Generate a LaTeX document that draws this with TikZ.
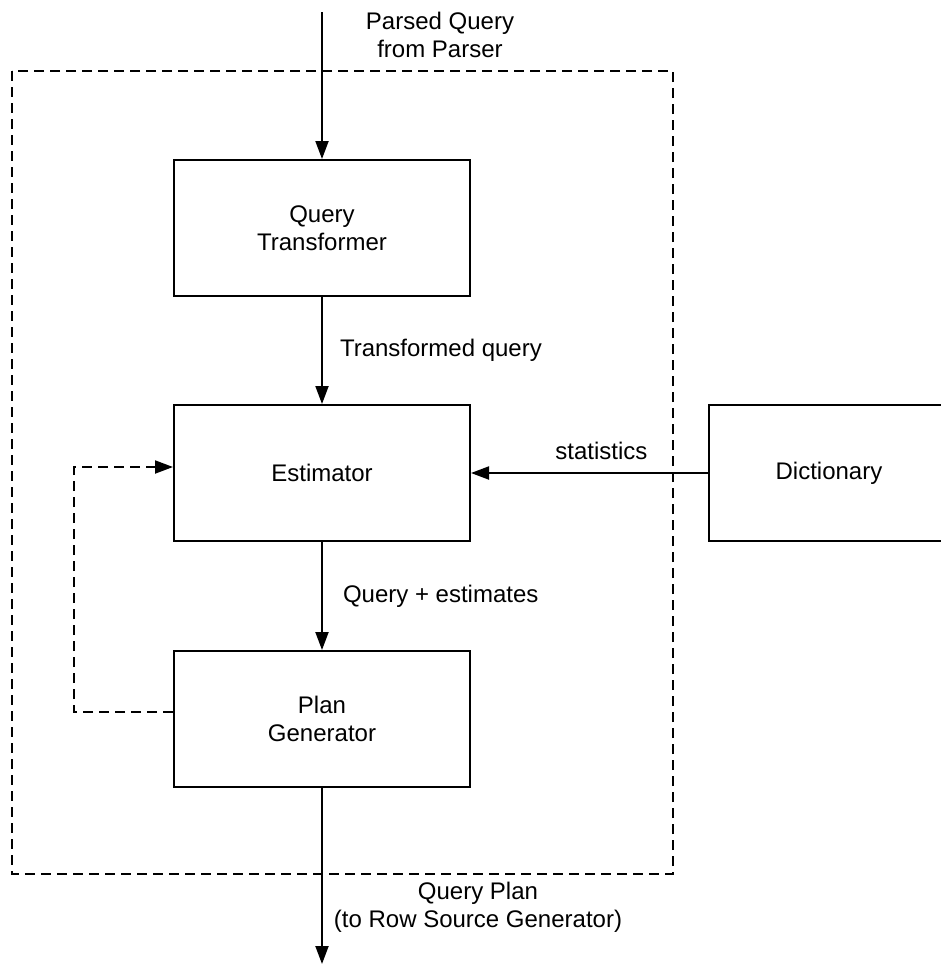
\documentclass[tikz,border=0pt]{standalone}
\usepackage{fontspec}
\setmainfont{Liberation Sans}
\usetikzlibrary{arrows.meta}

\begin{document}
\begin{tikzpicture}[x=0.5pt,y=-0.5pt,
		every node/.style={font=\fontsize{12}{13.8}\selectfont},
		box/.style={draw,line width=1pt,minimum width=148pt,minimum height=68pt,align=center},
		lbl/.style={align=center,inner sep=0pt},
		flow/.style={line width=1pt,-{Triangle[width=6.5pt,length=9pt]}},
		loop/.style={flow,dash pattern=on 5pt off 3pt}]
	\clip (0,0) rectangle (941,965);
	\draw[line width=1pt,dash pattern=on 5pt off 3pt] (12,71) rectangle (673,874);
	\node[box] (qt) at (322,228) {Query\\Transformer};
	\node[box] (est) at (322,473) {Estimator};
	\node[box] (pg) at (322,719) {Plan\\Generator};
	\node[box,minimum width=120pt] (dict) at (829,473) {Dictionary};
	\node[lbl] (src) at (440,35) {Parsed Query\\from Parser};
	\node[lbl] (dst) at (478,907) {Query Plan\\(to Row Source Generator)};
	\coordinate (in) at (322,12);
	\coordinate (out) at (322,964);
	\coordinate (fbA) at ([yshift=3.5pt]pg.west);
	\coordinate (fbB) at ([yshift=3pt]est.west);
	\draw[flow] (in) -- (qt);
	\draw[flow] (qt) -- node[lbl,right=8.5pt] {Transformed query} (est);
	\draw[flow] (est) -- node[lbl,right=10pt] {Query + estimates} (pg);
	\draw[flow] (dict) -- node[lbl,above=6pt,pos=0.45] {statistics} (est);
	\draw[loop] (fbA) -- ++(-99,0) |- (fbB);
	\draw[flow] (pg) -- (out);
\end{tikzpicture}
\end{document}
